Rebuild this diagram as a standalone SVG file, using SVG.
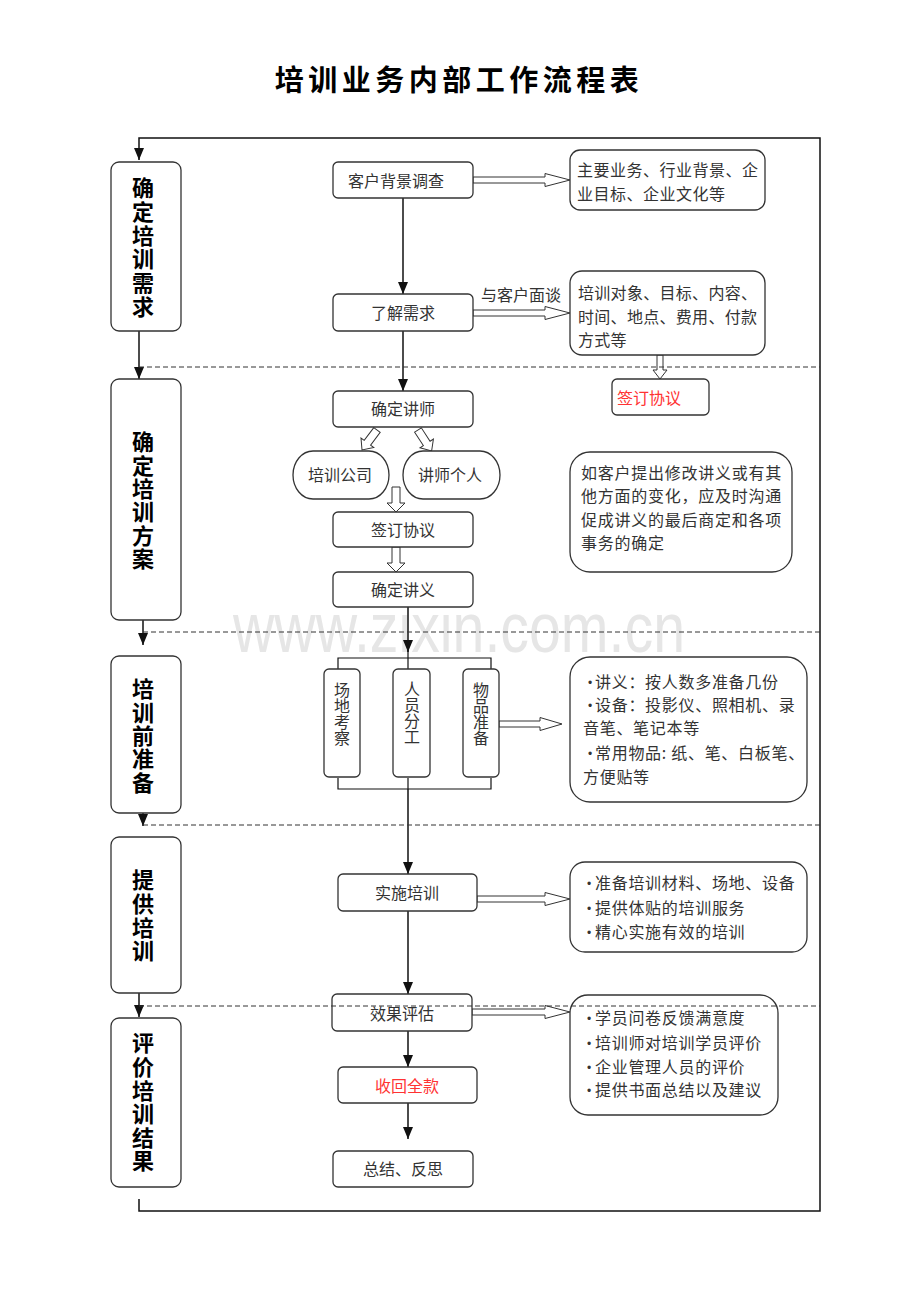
<svg xmlns="http://www.w3.org/2000/svg" width="920" height="1302" viewBox="0 0 920 1302">
<defs>
<marker id="ah" markerUnits="userSpaceOnUse" markerWidth="12" markerHeight="10" viewBox="0 0 12 10" refX="12" refY="5" orient="auto">
<path d="M0,0 L12,5 L0,10 z" fill="#111"/>
</marker>
<style>
.t{font-family:"Noto Sans CJK SC",sans-serif;font-size:16px;fill:#333}
.c{text-anchor:middle}
.st{font-family:"Noto Sans CJK SC",sans-serif;font-size:22px;font-weight:bold;fill:#000;writing-mode:vertical-rl}
.v{font-family:"Noto Sans CJK SC",sans-serif;font-size:16px;fill:#333;writing-mode:vertical-rl}
.box{fill:#fff;stroke:#333;stroke-width:1.3}
.ln{stroke:#111;stroke-width:1.5;fill:none}
.dash{stroke:#333;stroke-width:1;stroke-dasharray:5 3;fill:none}
.ha{fill:#fff;stroke:#333;stroke-width:1}
.red{fill:#f33}
.bul{font-family:"Liberation Sans",sans-serif;font-size:12px;fill:#333;text-anchor:middle}
</style>
</defs>
<rect width="920" height="1302" fill="#fff"/>
<text x="233" y="652" font-family="Liberation Sans, sans-serif" font-size="70" fill="#e6e6e6" textLength="452" lengthAdjust="spacingAndGlyphs">www.zixin.com.cn</text>

<text x="459" y="91" font-family="Noto Sans CJK SC, sans-serif" font-size="29" font-weight="bold" letter-spacing="4.5" text-anchor="middle" fill="#000">培训业务内部工作流程表</text>

<g id="connectors">
<path class="ln" d="M139,1199 L139,1211 L820,1211 L820,138 L139,138 L139,160" marker-end="url(#ah)"/>
<path class="ln" d="M139,331 L139,379" marker-end="url(#ah)"/>
<path class="ln" d="M143,620 L143,645" marker-end="url(#ah)"/>
<path class="ln" d="M143,813 L143,826" marker-end="url(#ah)"/>
<path class="ln" d="M139,993 L139,1017" marker-end="url(#ah)"/>
<path class="ln" d="M403,198 L403,294" marker-end="url(#ah)"/>
<path class="ln" d="M403,331 L403,391" marker-end="url(#ah)"/>
<path class="ln" d="M408,607 L408,652" marker-end="url(#ah)"/>
<path class="ln" d="M408,650 L408,670 M338,670 L338,658 L491,658 L491,670 M338,778 L338,789 L491,789 L491,778 M408,778 L408,789" style="stroke-width:1.2"/>
<path class="ln" d="M408,789 L408,874" marker-end="url(#ah)"/>
<path class="ln" d="M408,911 L408,994" marker-end="url(#ah)"/>
<path class="ln" d="M408,1031 L408,1067" marker-end="url(#ah)"/>
<path class="ln" d="M408,1103 L408,1139" marker-end="url(#ah)"/>
<path class="ha" d="M473,177 H545 V173.5 L570,180 L545,186.5 V183 H473 Z"/>
<path class="ha" d="M473,310 H545 V306.5 L570,313 L545,319.5 V316 H473 Z"/>
<path class="ha" d="M499,721 H540 V717.5 L562,724 L540,730.5 V727 H499 Z"/>
<path class="ha" d="M477,896 H545 V892.5 L570,899 L545,905.5 V902 H477 Z"/>
<path class="ha" d="M472,1009 H545 V1005.5 L570,1012 L545,1018.5 V1015 H472 Z"/>
<path class="ha" d="M657,355 V370 H653 L660,379 L667,370 H663 V355 Z"/>
<path class="ha" d="M392,487 V503 H387 L396,512 L405,503 H400 V487 Z"/>
<path class="ha" d="M392,547 V563 H387 L396,572 L405,563 H400 V547 Z"/>
<path class="ha" transform="translate(377,430) rotate(36.87)" d="M-4,0 V16 H-8 L0,25 L8,16 H4 V0 Z"/>
<path class="ha" transform="translate(418,430) rotate(-33)" d="M-4,0 V16 H-8 L0,25 L8,16 H4 V0 Z"/>
<text class="t" x="481" y="301">与客户面谈</text>
</g>

<g id="stage1"><rect class="box" x="111" y="162" width="70" height="169" rx="8"/>
<text class="st" x="143" y="177" letter-spacing="1.7">确定培训需求</text></g>
<g id="stage2"><rect class="box" x="111" y="379" width="70" height="241" rx="8"/>
<text class="st" x="143" y="431" letter-spacing="1.3">确定培训方案</text></g>
<g id="stage3"><rect class="box" x="111" y="656" width="70" height="157" rx="8"/>
<text class="st" x="143" y="678" letter-spacing="1.3">培训前准备</text></g>
<g id="stage4"><rect class="box" x="111" y="837" width="70" height="156" rx="8"/>
<text class="st" x="143" y="869" letter-spacing="1.7">提供培训</text></g>
<g id="stage5"><rect class="box" x="111" y="1018" width="70" height="169" rx="8"/>
<text class="st" x="143" y="1032" letter-spacing="1.6">评价培训结果</text></g>

<g id="n-survey"><rect class="box" x="333" y="162" width="140" height="36" rx="5"/><text class="t c" x="396" y="187">客户背景调查</text></g>
<g id="n-survey-note"><rect class="box" x="570" y="150" width="195" height="60" rx="10"/>
<text class="t" x="577" y="176" letter-spacing="0.5">主要业务、行业背景、企</text><text class="t" x="577" y="200" letter-spacing="0.5">业目标、企业文化等</text></g>
<g id="n-needs"><rect class="box" x="333" y="294" width="140" height="37" rx="5"/><text class="t c" x="403" y="319">了解需求</text></g>
<g id="n-needs-note"><rect class="box" x="570" y="271" width="195" height="84" rx="12"/>
<text class="t" x="578" y="299" letter-spacing="0.3">培训对象、目标、内容、</text><text class="t" x="578" y="323" letter-spacing="0.3">时间、地点、费用、付款</text><text class="t" x="578" y="346" letter-spacing="0.3">方式等</text></g>
<g id="n-sign1"><rect class="box" x="612" y="379" width="97" height="36" rx="5"/><text class="t red" x="617" y="404">签订协议</text></g>
<g id="n-lecturer"><rect class="box" x="333" y="391" width="140" height="36" rx="5"/><text class="t c" x="403" y="415">确定讲师</text></g>
<g id="n-company"><rect class="box" x="293" y="451" width="96" height="48" rx="20" ry="24"/><text class="t c" x="340" y="481">培训公司</text></g>
<g id="n-person"><rect class="box" x="403" y="451" width="97" height="48" rx="20" ry="24"/><text class="t c" x="450" y="481">讲师个人</text></g>
<g id="n-sign2"><rect class="box" x="333" y="512" width="140" height="35" rx="5"/><text class="t c" x="403" y="536">签订协议</text></g>
<g id="n-material"><rect class="box" x="333" y="572" width="140" height="35" rx="5"/><text class="t c" x="403" y="596">确定讲义</text></g>
<g id="n-change-note"><rect class="box" x="570" y="452" width="222" height="120" rx="20"/>
<text class="t" x="581" y="479" letter-spacing="0.75">如客户提出修改讲义或有其</text><text class="t" x="581" y="502" letter-spacing="0.75">他方面的变化，应及时沟通</text><text class="t" x="581" y="526" letter-spacing="0.75">促成讲义的最后商定和各项</text><text class="t" x="581" y="549" letter-spacing="0.75">事务的确定</text></g>
<g id="n-site"><rect class="box" x="324" y="669" width="36" height="108" rx="5"/>
<text class="v" x="342" y="682">场地考察</text></g>
<g id="n-staff"><rect class="box" x="393" y="669" width="37" height="108" rx="5"/>
<text class="v" x="412" y="681">人员分工</text></g>
<g id="n-items"><rect class="box" x="463" y="669" width="36" height="108" rx="5"/>
<text class="v" x="481" y="682">物品准备</text></g>
<g id="n-items-note"><rect class="box" x="570" y="657" width="237" height="145" rx="20"/>
<text class="bul" x="590" y="687">•</text><text class="t" x="595" y="688" letter-spacing="0.7">讲义：按人数多准备几份</text>
<text class="bul" x="590" y="710">•</text><text class="t" x="595" y="711" letter-spacing="0.7">设备：投影仪、照相机、录</text>
<text class="t" x="583" y="734" letter-spacing="0.7">音笔、笔记本等</text>
<text class="bul" x="590" y="758">•</text><text class="t" x="595" y="759" letter-spacing="0.7">常用物品: 纸、笔、白板笔、</text>
<text class="t" x="583" y="783" letter-spacing="0.7">方便贴等</text></g>
<g id="n-train"><rect class="box" x="338" y="874" width="139" height="37" rx="5"/><text class="t c" x="407" y="899">实施培训</text></g>
<g id="n-train-note"><rect class="box" x="570" y="862" width="237" height="90" rx="15"/>
<text class="bul" x="589" y="888">•</text><text class="t" x="595" y="889" letter-spacing="0.7">准备培训材料、场地、设备</text>
<text class="bul" x="589" y="913">•</text><text class="t" x="595" y="914" letter-spacing="0.7">提供体贴的培训服务</text>
<text class="bul" x="589" y="937">•</text><text class="t" x="595" y="938" letter-spacing="0.7">精心实施有效的培训</text></g>
<g id="n-eval"><rect class="box" x="332" y="994" width="140" height="37" rx="5"/><text class="t c" x="402" y="1020">效果评估</text></g>
<g id="n-eval-note"><rect class="box" x="570" y="995" width="208" height="120" rx="18"/>
<text class="bul" x="589" y="1023">•</text><text class="t" x="595" y="1024" letter-spacing="0.7">学员问卷反馈满意度</text>
<text class="bul" x="589" y="1048">•</text><text class="t" x="595" y="1049" letter-spacing="0.7">培训师对培训学员评价</text>
<text class="bul" x="589" y="1072">•</text><text class="t" x="595" y="1073" letter-spacing="0.7">企业管理人员的评价</text>
<text class="bul" x="589" y="1095">•</text><text class="t" x="595" y="1096" letter-spacing="0.7">提供书面总结以及建议</text></g>
<g id="n-payment"><rect class="box" x="338" y="1067" width="139" height="36" rx="5"/><text class="t c red" x="407" y="1092">收回全款</text></g>
<g id="n-summary"><rect class="box" x="333" y="1151" width="140" height="36" rx="5"/><text class="t c" x="403" y="1175">总结、反思</text></g>

<g id="dividers">
<path class="dash" d="M139,367 H820 M143,632 H820 M143,825 H820 M139,1006 H820"/>
</g>
</svg>
